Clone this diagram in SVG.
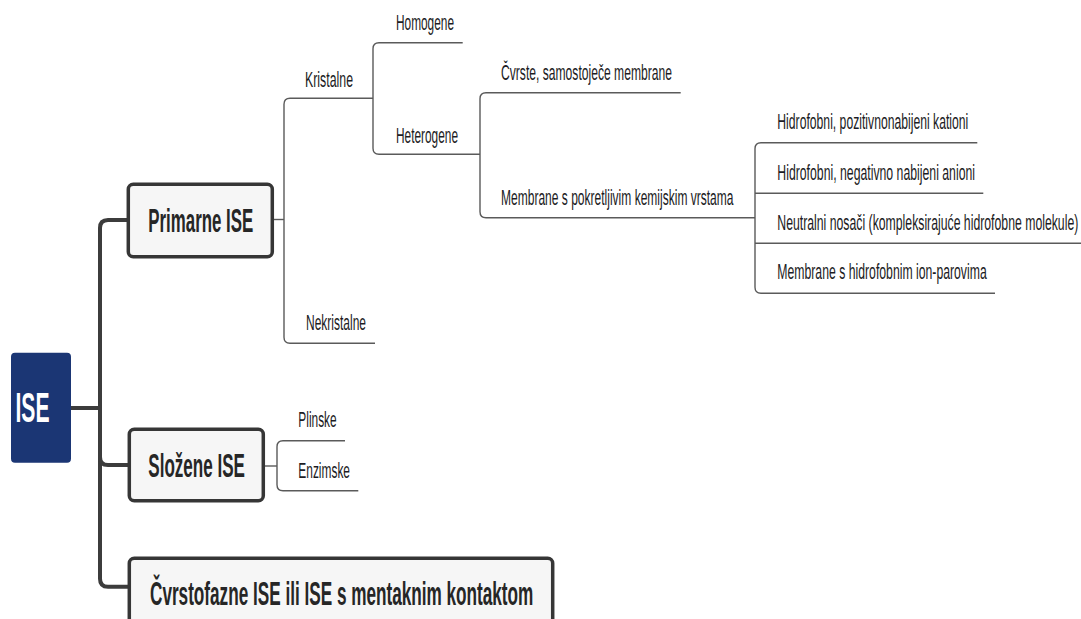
<svg xmlns="http://www.w3.org/2000/svg" width="1081" height="619" viewBox="0 0 1081 619">
<style>
.bg{fill:#ffffff}
.trunk{fill:none;stroke:#3c3c3c;stroke-width:4;stroke-linejoin:round}
.thin{fill:none;stroke:#5a5a5a;stroke-width:1.4}
.box{fill:#f6f6f6;stroke:#363636;stroke-width:3.5}
.root{fill:#1b3674}
.t{font-family:"Liberation Sans",Arial,sans-serif;font-size:22.5px;fill:#1c1c24}
.b{font-family:"Liberation Sans",Arial,sans-serif;font-size:32.5px;font-weight:bold;fill:#262626}
.r{font-family:"Liberation Sans",Arial,sans-serif;font-size:42px;font-weight:bold;fill:#ffffff}
</style>
<rect class="bg" x="0" y="0" width="1081" height="619"/>
<g id="connectors">
<path class="trunk" d="M71,408 H100"/>
<path class="trunk" d="M129,220 H108 Q100,220 100,228 V578.7 Q100,586.7 108,586.7 H130"/>
<path class="trunk" d="M100,457 Q100,465 108,465 H130"/>
<path class="thin" d="M272,219.5 H284"/>
<path class="thin" d="M373,98.3 H290 Q284,98.3 284,104.3 V337.3 Q284,343.3 290,343.3 H375"/>
<path class="thin" d="M462.7,42.7 H379 Q373,42.7 373,48.7 V148.3 Q373,154.3 379,154.3 H480"/>
<path class="thin" d="M680.7,92.7 H486 Q480,92.7 480,98.7 V211.7 Q480,217.7 486,217.7 H755"/>
<path class="thin" d="M977.3,142.7 H761 Q755,142.7 755,148.7 V287.3 Q755,293.3 761,293.3 H995"/>
<path class="thin" d="M755,193.3 H983.3"/>
<path class="thin" d="M755,243.3 H1081"/>
<path class="thin" d="M263,466 H277"/>
<path class="thin" d="M345,440.7 H283 Q277,440.7 277,446.7 V484.7 Q277,490.7 283,490.7 H358.3"/>
</g>
<g id="node-ise">
<rect class="root" x="11" y="352.7" width="60" height="110" rx="4"/>
<text class="r" x="15.5" y="421.7" textLength="34" lengthAdjust="spacingAndGlyphs">ISE</text>
</g>
<g id="node-primarne">
<rect class="box" x="128.3" y="184.3" width="144" height="72.4" rx="5"/>
<text class="b" x="148.3" y="232.3" textLength="105" lengthAdjust="spacingAndGlyphs">Primarne ISE</text>
</g>
<g id="node-slozene">
<rect class="box" x="129.3" y="429.3" width="134" height="71.4" rx="5"/>
<text class="b" x="148.3" y="477" textLength="96.7" lengthAdjust="spacingAndGlyphs">Složene ISE</text>
</g>
<g id="node-cvrstofazne">
<rect class="box" x="129.3" y="558.3" width="423.4" height="80" rx="5"/>
<text class="b" x="150" y="605" textLength="383.3" lengthAdjust="spacingAndGlyphs">Čvrstofazne ISE ili ISE s mentaknim kontaktom</text>
</g>
<g id="node-kristalne"><text class="t" x="305" y="87" textLength="48" lengthAdjust="spacingAndGlyphs">Kristalne</text></g>
<g id="node-nekristalne"><text class="t" x="306" y="330" textLength="60" lengthAdjust="spacingAndGlyphs">Nekristalne</text></g>
<g id="node-homogene"><text class="t" x="396" y="30" textLength="58" lengthAdjust="spacingAndGlyphs">Homogene</text></g>
<g id="node-heterogene"><text class="t" x="396" y="143.3" textLength="62" lengthAdjust="spacingAndGlyphs">Heterogene</text></g>
<g id="node-cvrste"><text class="t" x="501" y="80" textLength="171" lengthAdjust="spacingAndGlyphs">Čvrste, samostoječe membrane</text></g>
<g id="node-membrane-pokretljive"><text class="t" x="501" y="204.5" textLength="232.5" lengthAdjust="spacingAndGlyphs">Membrane s pokretljivim kemijskim vrstama</text></g>
<g id="node-kationi"><text class="t" x="777.3" y="129.3" textLength="191" lengthAdjust="spacingAndGlyphs">Hidrofobni, pozitivnonabijeni kationi</text></g>
<g id="node-anioni"><text class="t" x="777.3" y="180" textLength="197.7" lengthAdjust="spacingAndGlyphs">Hidrofobni, negativno nabijeni anioni</text></g>
<g id="node-neutralni"><text class="t" x="777.3" y="230" textLength="301" lengthAdjust="spacingAndGlyphs">Neutralni nosači (kompleksirajuće hidrofobne molekule)</text></g>
<g id="node-ion-parovi"><text class="t" x="777.3" y="279.3" textLength="209.4" lengthAdjust="spacingAndGlyphs">Membrane s hidrofobnim ion-parovima</text></g>
<g id="node-plinske"><text class="t" x="298.3" y="427.3" textLength="38.4" lengthAdjust="spacingAndGlyphs">Plinske</text></g>
<g id="node-enzimske"><text class="t" x="298.3" y="478.3" textLength="51.7" lengthAdjust="spacingAndGlyphs">Enzimske</text></g>
</svg>
